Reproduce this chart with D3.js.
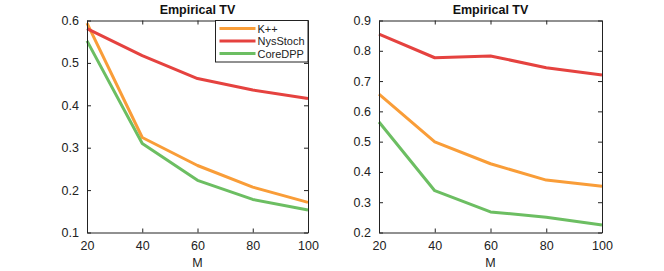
<!DOCTYPE html>
<html>
<head>
<meta charset="utf-8">
<script src="https://cdn.jsdelivr.net/npm/d3@7"></script>
<style>
  body { margin: 0; background: #fff; }
  text { font-family: "Liberation Sans", Arial, sans-serif; }
</style>
</head>
<body>
<script>
var svgWidth = 664;
var svgHeight = 271;

// x values shared by both panels
var mValues = [20, 40, 60, 80, 100];
var seriesNames = ["K++", "NysStoch", "CoreDPP"];
var seriesColors = ["#f99d38", "#e5423f", "#6cbe62"];

// left panel
var leftKpp = [0.594, 0.324, 0.258, 0.207, 0.171];
var leftNys = [0.581, 0.517, 0.463, 0.436, 0.416];
var leftCore = [0.552, 0.310, 0.223, 0.178, 0.153];
var leftTicks = [0.1, 0.2, 0.3, 0.4, 0.5, 0.6];

// right panel
var rightKpp = [0.657, 0.499, 0.427, 0.373, 0.353];
var rightNys = [0.855, 0.777, 0.783, 0.744, 0.720];
var rightCore = [0.565, 0.338, 0.268, 0.250, 0.225];
var rightTicks = [0.2, 0.3, 0.4, 0.5, 0.6, 0.7, 0.8, 0.9];

var svg = d3.select("body")
  .append("svg")
  .attr("width", svgWidth)
  .attr("height", svgHeight);

function drawPanel(left, right, yDomain, yTicks, series, showLegend) {
  var top = 20.5, bottom = 232.5;

  var x = d3.scaleLinear().domain([20, 100]).range([left, right]);
  var y = d3.scaleLinear().domain(yDomain).range([bottom, top]);

  var g = svg.append("g");

  // the lines
  var line = d3.line()
    .x(function(d, i) { return x(mValues[i]); })
    .y(function(d) { return y(d); });

  series.forEach(function(s, k) {
    g.append("path")
      .datum(s)
      .attr("fill", "none")
      .attr("stroke", seriesColors[k])
      .attr("stroke-width", 3)
      .attr("stroke-linejoin", "round")
      .attr("d", line);
  });

  // axes, ticks pointing inward
  var axisStyle = function(sel) {
    sel.select(".domain").attr("stroke", "#222");
    sel.selectAll(".tick line").attr("stroke", "#222");
    sel.selectAll("text").attr("fill", "#222").style("font-size", "12.5px");
  };

  g.append("g")
    .attr("transform", "translate(0," + bottom + ")")
    .call(d3.axisBottom(x).tickValues(mValues).tickSizeInner(-4).tickSizeOuter(0).tickPadding(9))
    .call(axisStyle);

  g.append("g")
    .attr("transform", "translate(0," + top + ")")
    .call(d3.axisTop(x).tickValues(mValues).tickSizeInner(-4).tickSizeOuter(0).tickFormat(""))
    .call(axisStyle);

  g.append("g")
    .attr("transform", "translate(" + left + ",0)")
    .call(d3.axisLeft(y).tickValues(yTicks).tickSizeInner(-4).tickSizeOuter(0).tickPadding(8).tickFormat(d3.format(".1f")))
    .call(axisStyle);

  g.append("g")
    .attr("transform", "translate(" + right + ",0)")
    .call(d3.axisRight(y).tickValues(yTicks).tickSizeInner(-4).tickSizeOuter(0).tickFormat(""))
    .call(axisStyle);

  g.append("text")
    .attr("x", (left + right) / 2)
    .attr("y", 14)
    .attr("text-anchor", "middle")
    .style("font-size", "12.5px")
    .style("font-weight", "bold")
    .attr("fill", "#111")
    .text("Empirical TV");

  g.append("text")
    .attr("x", (left + right) / 2)
    .attr("y", 267)
    .attr("text-anchor", "middle")
    .style("font-size", "12.5px")
    .attr("fill", "#222")
    .text("M");

  if (showLegend) {
    var lx = 215.5, ly = 20.5, lw = right - 215.5, lh = 41.5;
    var leg = g.append("g");
    leg.append("rect")
      .attr("x", lx).attr("y", ly)
      .attr("width", lw).attr("height", lh)
      .attr("fill", "#fff")
      .attr("stroke", "#222");
    seriesNames.forEach(function(name, k) {
      var yy = ly + 8 + k * 12.5;
      leg.append("line")
        .attr("x1", lx + 4).attr("x2", lx + 40)
        .attr("y1", yy).attr("y2", yy)
        .attr("stroke", seriesColors[k])
        .attr("stroke-width", 3);
      leg.append("text")
        .attr("x", lx + 42)
        .attr("y", yy + 4)
        .style("font-size", "11px")
        .attr("fill", "#222")
        .text(name);
    });
  }
}

drawPanel(87, 308, [0.1, 0.6], leftTicks, [leftKpp, leftNys, leftCore], true);
drawPanel(379, 602, [0.2, 0.9], rightTicks, [rightKpp, rightNys, rightCore], false);
</script>
</body>
</html>
